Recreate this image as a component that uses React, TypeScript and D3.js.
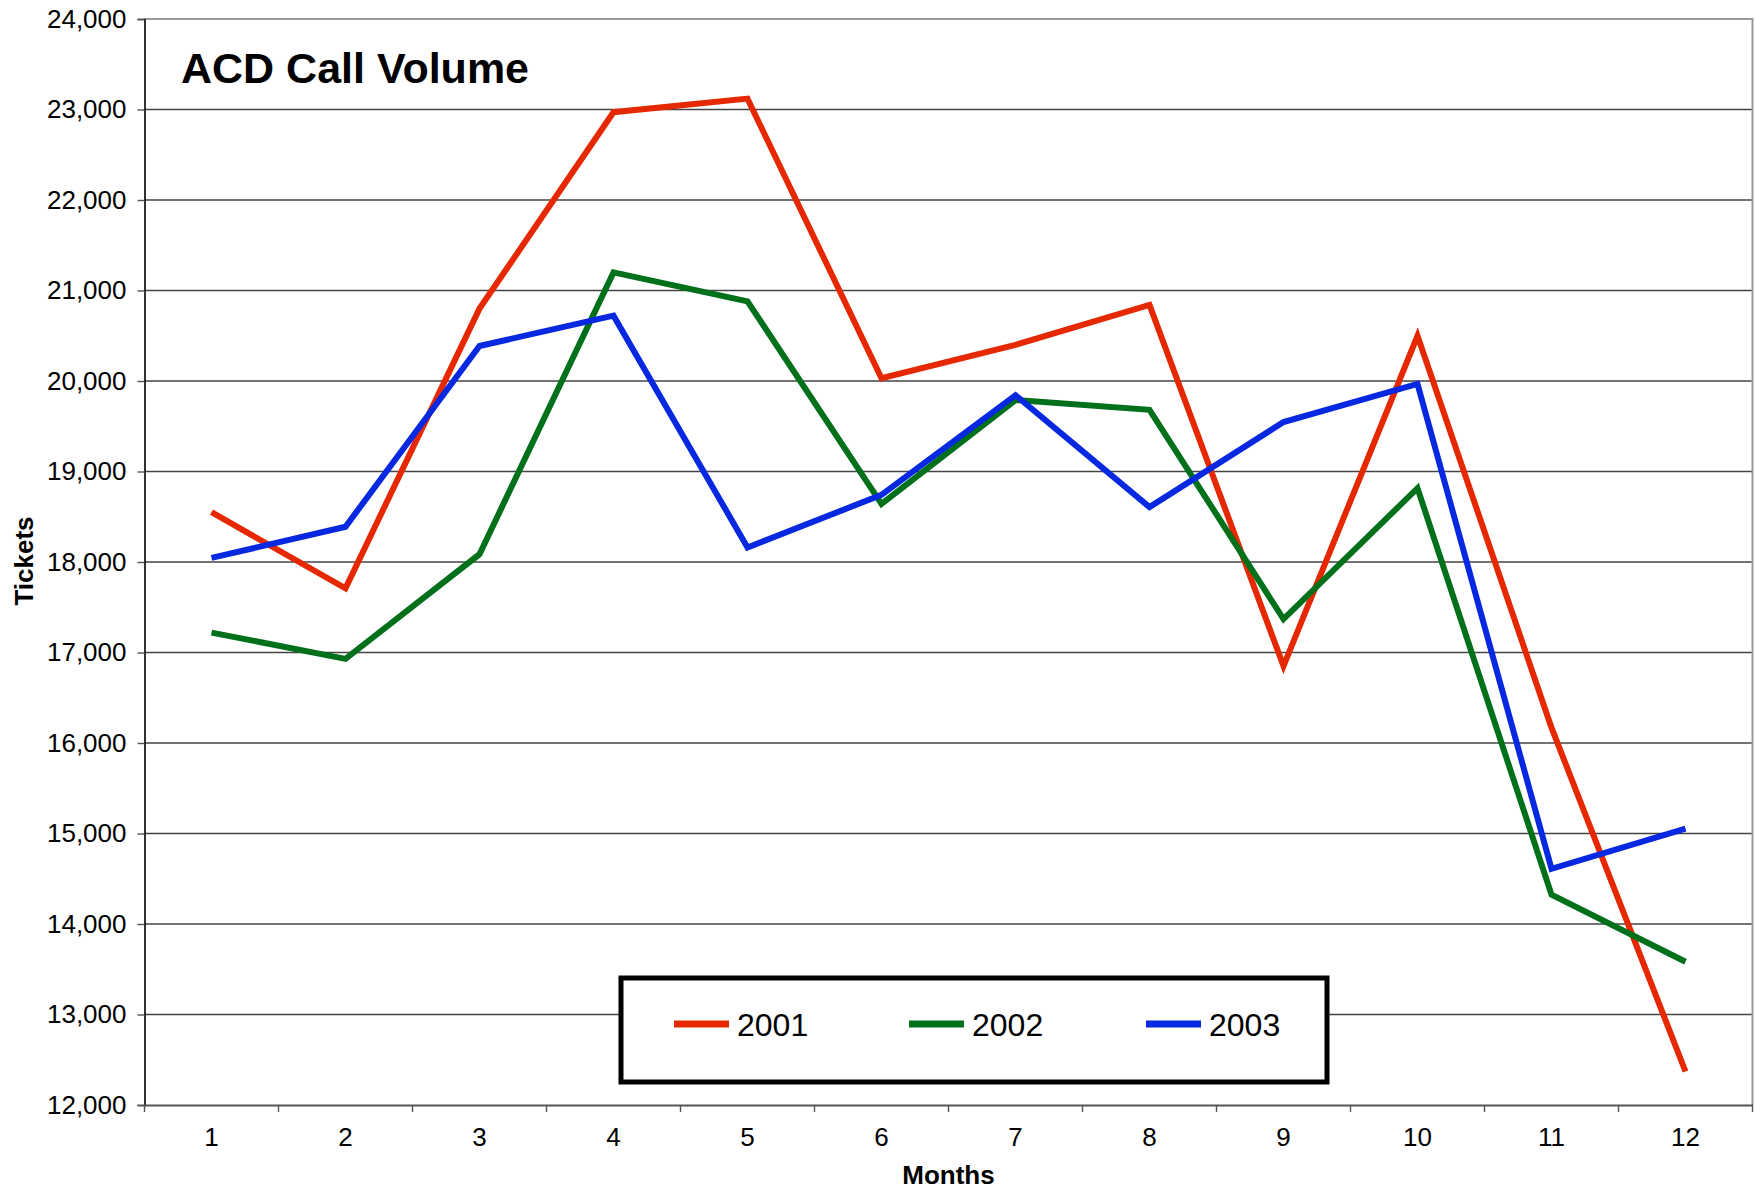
import React, { useEffect, useRef } from 'react';
import * as d3 from 'd3';

// months on the x axis
const months = ['1', '2', '3', '4', '5', '6', '7', '8', '9', '10', '11', '12'];
// series names (legend)
const seriesNames = ['2001', '2002', '2003'];
// tickets per month
const values2001 = [18550, 17710, 20800, 22970, 23120, 20030, 20400, 20840, 16850, 20500, 16170, 12370];
const values2002 = [17220, 16930, 18086, 21200, 20880, 18643, 19790, 19682, 17369, 18816, 14325, 13583];
const values2003 = [18045, 18390, 20387, 20722, 18161, 18742, 19843, 18606, 19546, 19967, 14610, 15055];
const yTicks = [12000, 13000, 14000, 15000, 16000, 17000, 18000, 19000, 20000, 21000, 22000, 23000, 24000];
const seriesColors = ['#e62800', '#00701a', '#0528e0'];

const W = 1755;
const H = 1191;

function App() {
  const ref = useRef<SVGSVGElement | null>(null);

  useEffect(() => {
    const svg = d3.select(ref.current);
    svg.selectAll('*').remove();

    const left = 144.5;
    const right = 1752.5;
    const top = 19;
    const bottom = 1105;
    const font = 'Arial, "Liberation Sans", Helvetica, sans-serif';

    const x = d3.scaleBand().domain(months).range([left, right]);
    const y = d3.scaleLinear().domain([12000, 24000]).range([bottom, top]);

    // gridlines
    svg
      .append('g')
      .selectAll('line')
      .data(yTicks.slice(1, -1))
      .enter()
      .append('line')
      .attr('x1', left)
      .attr('x2', right)
      .attr('y1', (d) => y(d))
      .attr('y2', (d) => y(d))
      .attr('stroke', '#444')
      .attr('stroke-width', 1.4);

    // plot border top / right
    svg
      .append('path')
      .attr('d', `M${left},${top}H${right}V${bottom}`)
      .attr('fill', 'none')
      .attr('stroke', '#999')
      .attr('stroke-width', 2);

    // y axis
    const axisY = d3
      .axisLeft(y)
      .tickValues(yTicks)
      .tickSize(7)
      .tickPadding(11)
      .tickFormat((d) => d3.format(',')(d as number));
    const axisYG = svg.append('g').attr('transform', `translate(${left},0)`).call(axisY);
    axisYG.select('.domain').attr('stroke', '#000').attr('stroke-width', 1.6);
    axisYG.selectAll('.tick line').attr('stroke', '#555').attr('stroke-width', 1.4);
    axisYG
      .selectAll('.tick text')
      .attr('fill', '#000')
      .attr('font-size', 26)
      .attr('font-family', font);

    // x axis, ticks on band edges
    const axisX = d3.axisBottom(x).tickSize(0).tickPadding(23);
    const axisXG = svg.append('g').attr('transform', `translate(0,${bottom})`).call(axisX);
    axisXG.select('.domain').attr('stroke', '#555').attr('stroke-width', 2.2);
    axisXG
      .selectAll('.tick text')
      .attr('fill', '#000')
      .attr('font-size', 26)
      .attr('font-family', font);
    const edges = months.map((m) => x(m) as number).concat([right]);
    axisXG
      .selectAll('.edge')
      .data(edges)
      .enter()
      .append('line')
      .attr('class', 'edge')
      .attr('x1', (d) => d)
      .attr('x2', (d) => d)
      .attr('y1', 0)
      .attr('y2', 7)
      .attr('stroke', '#555')
      .attr('stroke-width', 1.4);

    // lines
    const line = d3
      .line<number>()
      .x((d, i) => (x(months[i]) as number) + x.bandwidth() / 2)
      .y((d) => y(d));
    [values2001, values2002, values2003].forEach((vals, i) => {
      svg
        .append('path')
        .datum(vals)
        .attr('d', line)
        .attr('fill', 'none')
        .attr('stroke', seriesColors[i])
        .attr('stroke-width', 6)
        .attr('stroke-linejoin', 'miter')
        .attr('stroke-linecap', 'butt');
    });

    // title
    svg
      .append('text')
      .attr('x', 181)
      .attr('y', 83)
      .attr('font-size', 43)
      .attr('font-weight', 'bold')
      .attr('font-family', font)
      .text('ACD Call Volume');

    // axis titles
    svg
      .append('text')
      .attr('x', (left + right) / 2)
      .attr('y', 1184)
      .attr('text-anchor', 'middle')
      .attr('font-size', 26)
      .attr('font-weight', 'bold')
      .attr('font-family', font)
      .text('Months');
    svg
      .append('text')
      .attr('transform', `translate(33,561) rotate(-90)`)
      .attr('text-anchor', 'middle')
      .attr('font-size', 26)
      .attr('font-weight', 'bold')
      .attr('font-family', font)
      .text('Tickets');

    // legend
    const legendG = svg.append('g');
    legendG
      .append('rect')
      .attr('x', 621)
      .attr('y', 978)
      .attr('width', 706)
      .attr('height', 104)
      .attr('fill', '#fff')
      .attr('stroke', '#000')
      .attr('stroke-width', 5);
    const legendX = [674, 909, 1146];
    const legend = legendG
      .selectAll('.legend')
      .data(seriesNames)
      .enter()
      .append('g')
      .attr('class', 'legend')
      .attr('transform', (d, i) => `translate(${legendX[i]},1024)`);
    legend
      .append('line')
      .attr('x1', 0)
      .attr('x2', 55)
      .attr('stroke', (d, i) => seriesColors[i])
      .attr('stroke-width', 7);
    legend
      .append('text')
      .attr('x', 63)
      .attr('y', 12)
      .attr('font-size', 32)
      .attr('font-family', font)
      .text((d) => d);
  }, []);

  return (
    <svg
      ref={ref}
      width={W}
      height={H}
      style={{ position: 'absolute', left: 0, top: 0, background: '#fff' }}
    />
  );
}

export default App;
